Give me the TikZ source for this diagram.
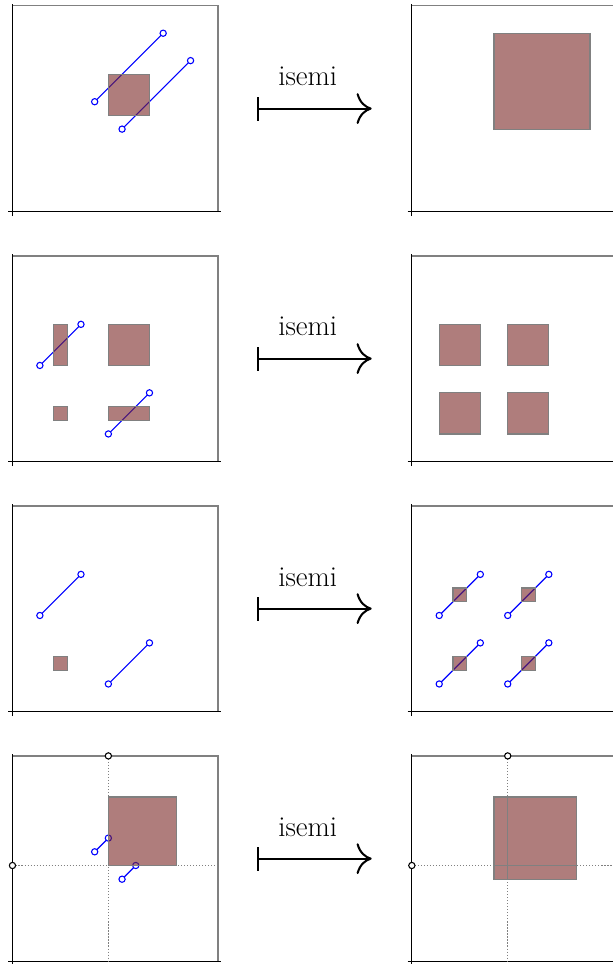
\documentclass[tikz,border=0pt]{standalone}
\usepackage{fontspec}
\usetikzlibrary{arrows.meta}
\definecolor{regfill}{RGB}{122,38,37}
\tikzset{
  frame/.style={draw=gray, line width=1.1pt},
  axisline/.style={black, line width=0.8pt},
  region/.style={fill=regfill, fill opacity=0.6, draw=gray, line width=1pt},
  segline/.style={blue, line width=0.95pt},
  endpt/.style={draw=blue, fill=white, line width=0.9pt},
  guide/.style={gray, line width=0.9pt, dash pattern=on 0.9pt off 1.6pt},
  blackpt/.style={draw=black, fill=white, line width=0.9pt},
  maparrow/.style={line width=1.7pt, {Bar[width=0.7cm]}-{Computer Modern Rightarrow[length=0.44cm,width=0.9cm]}},
  lbl/.style={font=\fontsize{24}{28}\selectfont, inner sep=0pt}
}
\newcommand\panelbase{%
  \draw[frame] (0,0) rectangle (3,3);
  \draw[axisline] (-0.06,0) -- (3.05,0);
  \draw[axisline] (0,-0.07) -- (0,3.03);
}
\newcommand\segm[4]{%
  \draw[segline] (#1,#2) -- (#3,#4);
  \draw[endpt] (#1,#2) circle[radius=2.6pt];
  \draw[endpt] (#3,#4) circle[radius=2.6pt];
}
\newcommand\reg[4]{\draw[region] (#1,#2) rectangle (#3,#4);}
\newcommand\maprow[1]{%
  \coordinate (s#1) at (3.565,1.5);
  \coordinate (e#1) at (5.244,1.5);
  \draw[maparrow] (s#1) -- (e#1);
  \node[lbl, anchor=base] (l#1) at (4.31,1.83) {isemi};
}
\begin{document}
\begin{tikzpicture}[x=2cm,y=2cm]
\useasboundingbox (-0.182,-10.988) rectangle (8.766,3.085);
% ---------- row 1
\begin{scope}
  \panelbase
  \segm{1.2}{1.6}{2.2}{2.6}
  \segm{1.6}{1.2}{2.6}{2.2}
  \reg{1.4}{1.4}{2}{2}
  \maprow{1}
\end{scope}
\begin{scope}[xshift=5.83*2cm]
  \panelbase
  \reg{1.2}{1.2}{2.6}{2.6}
\end{scope}
% ---------- row 2
\begin{scope}[yshift=-3.65*2cm]
  \panelbase
  \segm{0.4}{1.4}{1.0}{2.0}
  \segm{1.4}{0.4}{2.0}{1.0}
  \reg{0.6}{1.4}{0.8}{2.0}
  \reg{1.4}{1.4}{2.0}{2.0}
  \reg{0.6}{0.6}{0.8}{0.8}
  \reg{1.4}{0.6}{2.0}{0.8}
  \maprow{2}
\end{scope}
\begin{scope}[xshift=5.83*2cm, yshift=-3.65*2cm]
  \panelbase
  \reg{0.4}{1.4}{1.0}{2.0}
  \reg{1.4}{1.4}{2.0}{2.0}
  \reg{0.4}{0.4}{1.0}{1.0}
  \reg{1.4}{0.4}{2.0}{1.0}
\end{scope}
% ---------- row 3
\begin{scope}[yshift=-7.3*2cm]
  \panelbase
  \segm{0.4}{1.4}{1.0}{2.0}
  \segm{1.4}{0.4}{2.0}{1.0}
  \reg{0.6}{0.6}{0.8}{0.8}
  \maprow{3}
\end{scope}
\begin{scope}[xshift=5.83*2cm, yshift=-7.3*2cm]
  \panelbase
  \segm{0.4}{1.4}{1.0}{2.0}
  \segm{1.4}{1.4}{2.0}{2.0}
  \segm{0.4}{0.4}{1.0}{1.0}
  \segm{1.4}{0.4}{2.0}{1.0}
  \reg{0.6}{1.6}{0.8}{1.8}
  \reg{1.6}{1.6}{1.8}{1.8}
  \reg{0.6}{0.6}{0.8}{0.8}
  \reg{1.6}{0.6}{1.8}{0.8}
\end{scope}
% ---------- row 4
\begin{scope}[yshift=-10.95*2cm]
  \panelbase
  \draw[guide] (1.4,3) -- (1.4,0);
  \draw[guide] (0,1.4) -- (3,1.4);
  \segm{1.2}{1.6}{1.4}{1.8}
  \segm{1.6}{1.2}{1.8}{1.4}
  \reg{1.4}{1.4}{2.4}{2.4}
  \draw[blackpt] (1.4,3) circle[radius=2.6pt];
  \draw[blackpt] (0,1.4) circle[radius=2.6pt];
  \maprow{4}
\end{scope}
\begin{scope}[xshift=5.83*2cm, yshift=-10.95*2cm]
  \panelbase
  \draw[guide] (1.4,3) -- (1.4,0);
  \draw[guide] (0,1.4) -- (3.2,1.4);
  \reg{1.2}{1.2}{1.4}{1.4}
  \reg{1.4}{1.2}{2.4}{1.4}
  \reg{1.2}{1.4}{1.4}{2.4}
  \reg{1.4}{1.4}{2.4}{2.4}
  \draw[blackpt] (1.4,3) circle[radius=2.6pt];
  \draw[blackpt] (0,1.4) circle[radius=2.6pt];
\end{scope}
\end{tikzpicture}
\end{document}
